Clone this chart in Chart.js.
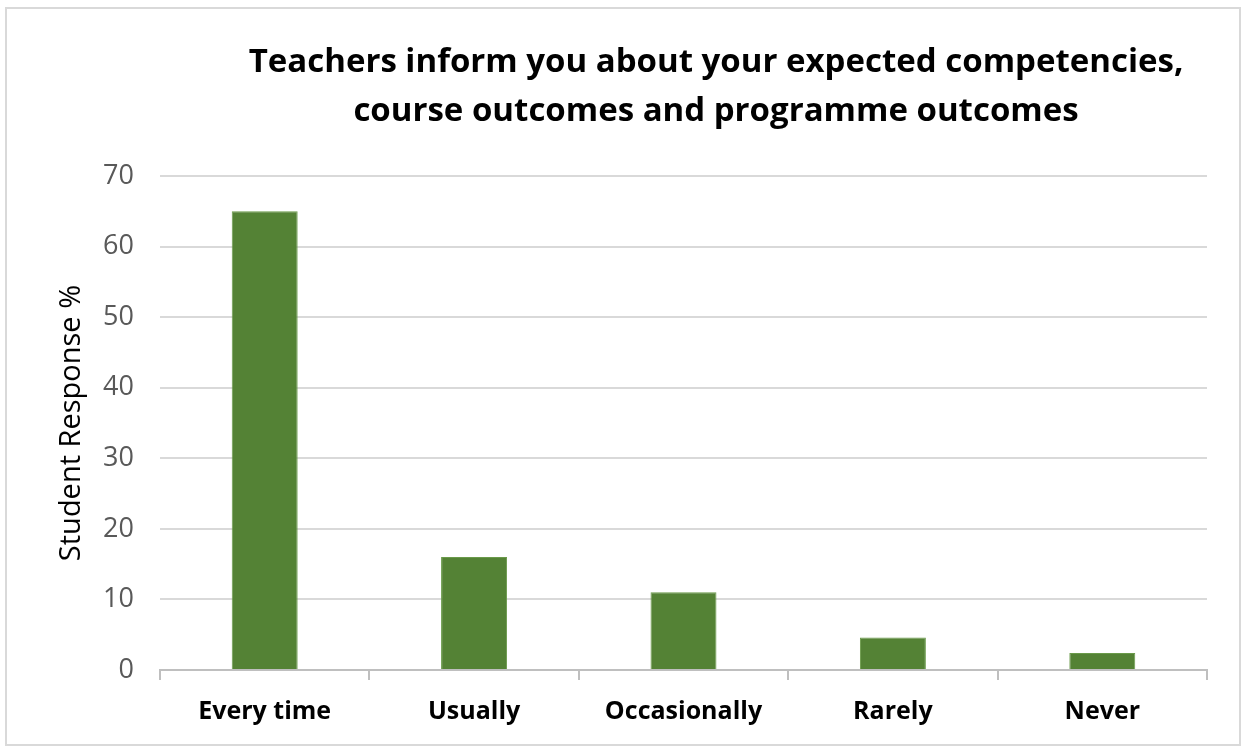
<!DOCTYPE html>
<html>
<head>
<meta charset="utf-8">
<script src="https://cdn.jsdelivr.net/npm/chart.js@4"></script>
<style>
  html, body { margin: 0; padding: 0; background: #fff; }
  #wrap { position: relative; width: 1246px; height: 750px; }
  #frame { position: absolute; left: 5px; top: 7px; width: 1232px; height: 735px; border: 2px solid #d9d9d9; pointer-events: none; }
  canvas { position: absolute; left: 0; top: 0; }
</style>
</head>
<body>
<div id="wrap">
  <canvas id="chart" width="1246" height="750"></canvas>
  <div id="frame"></div>
</div>
<script>
// ── data ────────────────────────────────────────────────────────────────────
const categories = ['Every time', 'Usually', 'Occasionally', 'Rarely', 'Never'];
const responses = [65, 16, 11, 4.6, 2.4];
const yTicks = [0, 10, 20, 30, 40, 50, 60, 70];
const titleLines = [
  'Teachers inform you about your expected competencies,',
  'course outcomes and programme outcomes',
];

const FONT = '"Open Sans", sans-serif';

// title drawn over the canvas, centred like the Excel original
const titlePlugin = {
  id: 'excelTitle',
  afterDraw(chart) {
    const { ctx } = chart;
    ctx.save();
    ctx.fillStyle = '#000';
    ctx.font = `bold 33px ${FONT}`;
    ctx.textAlign = 'center';
    ctx.textBaseline = 'alphabetic';
    titleLines.forEach((line, i) => ctx.fillText(line, 716, 72 + i * 49));
    ctx.restore();
  },
};

new Chart(document.getElementById('chart'), {
  type: 'bar',
  data: {
    labels: categories,
    datasets: [
      {
        label: 'Student Response %',
        data: responses,
        backgroundColor: '#548235',
        borderColor: '#6a9a4a',
        borderWidth: 1,
        barPercentage: 0.315,
        categoryPercentage: 1,
      },
    ],
  },
  options: {
    responsive: false,
    animation: false,
    layout: { padding: { left: 0, right: 39, top: 176, bottom: 0 } },
    plugins: { legend: { display: false }, tooltip: { enabled: false } },
    scales: {
      x: {
        afterFit: (s) => { s.height = 80; },
        grid: { offset: true, drawOnChartArea: false, tickLength: 10, color: '#bfbfbf', lineWidth: 2 },
        border: { color: '#bfbfbf', width: 2 },
        ticks: {
          color: '#000',
          padding: 17,
          font: { family: FONT, size: 25, weight: 'bold' },
        },
      },
      y: {
        min: 0,
        max: 70,
        afterFit: (s) => { s.width = 160; },
        afterBuildTicks: (s) => { s.ticks = yTicks.map((v) => ({ value: v })); },
        grid: { color: '#d9d9d9', lineWidth: 2, drawTicks: false },
        border: { display: false },
        ticks: {
          color: '#595959',
          padding: 26,
          font: { family: FONT, size: 27 },
        },
        title: {
          display: true,
          text: 'Student Response %',
          color: '#000',
          padding: { top: 54 },
          font: { family: FONT, size: 29 },
        },
      },
    },
  },
  plugins: [titlePlugin],
});
</script>
</body>
</html>
